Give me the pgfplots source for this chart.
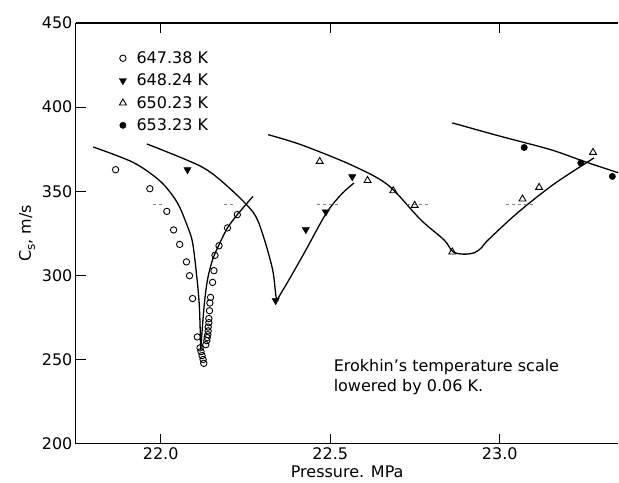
\documentclass[border=0pt]{standalone}
\usepackage{pgfplots}
\pgfplotsset{compat=1.18}
\usepackage{fontspec}
\setmainfont{DejaVu Sans}
\newcommand{\fs}{\fontsize{16}{19}\selectfont}
\begin{document}
\begin{tikzpicture}
\begin{axis}[
  scale only axis, width=543pt, height=421pt,
  xmin=21.75, xmax=23.35, ymin=200, ymax=450,
  axis x line=box, axis y line*=left,
  y axis line style={-},
  every outer y axis line/.append style={-},
  axis line style={line width=1.1pt},
  xtick={22.0,22.5,23.0}, ytick={200,250,300,350,400,450},
  xtick pos=both, ytick pos=left, xticklabel pos=lower,
  tick align=inside, major tick length=10pt,
  tick style={line width=1pt, black},
  /pgf/number format/assume math mode=true,
  xticklabel style={/pgf/number format/.cd, fixed, fixed zerofill, precision=1},
  yticklabel style={/pgf/number format/.cd, fixed, precision=0},
  tick label style={font=\fs},
  label style={font=\fs},
  xlabel={Pressure. MPa},
  ylabel={C\raisebox{-0.45ex}{\fontsize{12}{12}\selectfont s}, m/s},
  legend style={at={(axis description cs:0.074,0.942)}, anchor=north west, draw=none, fill=none,
    font=\fs, row sep=5pt, cells={anchor=west}, /tikz/column 1/.style={column sep=8pt}},
]
% curves
\addplot[black, line width=1.3pt, smooth, forget plot] coordinates {
(21.801,376.3) (21.920,367) (22.000,355.7) (22.049,343.2) (22.079,329.1) (22.094,319.5) (22.106,300) (22.114,281.6) (22.118,255.9)};
\addplot[black, line width=1.3pt, smooth, forget plot] coordinates {
(22.118,255.9) (22.128,281.6) (22.138,297.4) (22.153,309.3) (22.172,318.2) (22.197,328.2) (22.226,336.1) (22.272,346.9)};
\addplot[black, line width=1.3pt, smooth, forget plot] coordinates {
(21.959,378.1) (22.118,364.8) (22.197,352.9) (22.274,337.1) (22.304,322.4) (22.330,303.4) (22.339,289) (22.342,285)};
\addplot[black, line width=1.3pt, smooth, forget plot] coordinates {
(22.342,285) (22.383,299) (22.428,315) (22.487,336.5) (22.531,347.8) (22.570,354.9)};
\addplot[black, line width=1.3pt, smooth, forget plot] coordinates {
(22.317,383.6) (22.413,377.7) (22.560,365.8) (22.669,353.9) (22.767,333) (22.836,321) (22.862,314.0) (22.895,312.6) (22.926,313.5) (22.947,316.6) (22.965,320.9) (23.052,337.1) (23.160,354.3) (23.278,369.8)};
\addplot[black, line width=1.3pt, smooth, forget plot] coordinates {
(22.860,390.6) (23.003,382.6) (23.150,374.7) (23.249,367.7) (23.352,360.8)};
% reference dashes
\addplot[gray, line width=0.5pt, dashed, unbounded coords=jump, forget plot] coordinates {
(21.976,342) (22.006,342) (22.1,nan) (22.186,342) (22.221,342) (22.3,nan) (22.460,342) (22.522,342) (22.6,nan) (22.726,342) (22.796,342) (22.9,nan) (23.018,342) (23.106,342)};
% data
\addplot[only marks, mark=o, mark size=3.2pt, mark options={line width=0.9pt, black}] coordinates {
(21.867,362.8) (21.968,351.5) (22.018,338) (22.038,327) (22.056,318.4) (22.076,308) (22.085,299.8) (22.094,286.2)
(22.108,263.4) (22.116,256.9) (22.119,254.7) (22.122,252.3) (22.125,250) (22.127,247.7)
(22.133,258.8) (22.136,261.2) (22.137,263) (22.139,264.8) (22.140,267) (22.140,269.3) (22.142,271.9) (22.142,274.3)
(22.144,279) (22.145,283.6) (22.147,286.9) (22.153,295.8) (22.157,302.8) (22.160,311.9) (22.172,317.6) (22.197,328.2) (22.226,336.1)};
\addlegendentry{647.38 K}
\addplot[only marks, mark=triangle*, mark size=4.2pt, mark options={rotate=180, black, fill=black}] coordinates {
(22.079,362.8) (22.339,285) (22.428,327.2) (22.487,337.7) (22.565,358.6)};
\addlegendentry{648.24 K}
\addplot[only marks, mark=triangle, mark size=4pt, mark options={line width=0.9pt, black}] coordinates {
(22.469,367.7) (22.610,356.4) (22.686,350.3) (22.749,341.6) (22.860,313.9) (23.067,345.4) (23.116,352.3) (23.275,373.1)};
\addlegendentry{650.23 K}
\addplot[only marks, mark=*, mark size=3.2pt, mark options={black, fill=black}] coordinates {
(23.072,376) (23.239,366.8) (23.332,358.8)};
\addlegendentry{653.23 K}
\node[anchor=base west, font=\fs] at (axis cs:22.5,243) {Erokhin's temperature scale};
\node[anchor=base west, font=\fs] at (axis cs:22.5,231) {lowered by 0.06 K.};
\end{axis}
\path ([xshift=-76pt,yshift=-39pt]current axis.south west) rectangle ([yshift=23pt]current axis.north east);
\end{tikzpicture}
\end{document}
